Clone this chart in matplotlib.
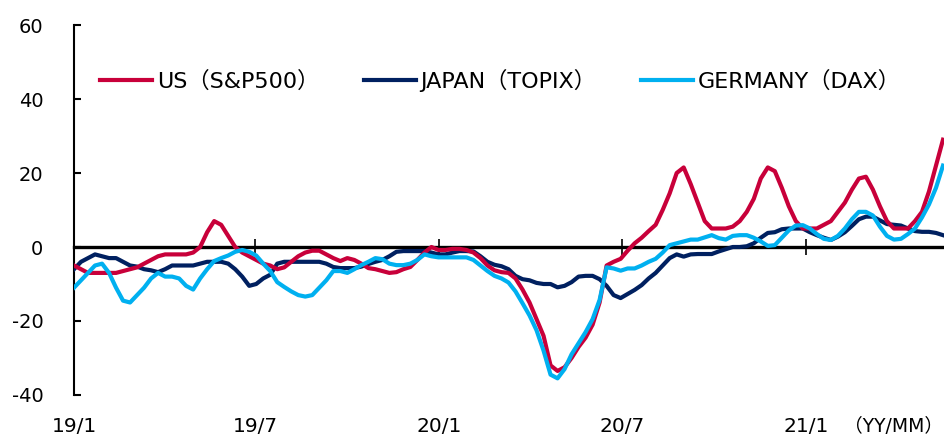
import numpy as np
import pandas as pd
import matplotlib
matplotlib.use('Agg')
import matplotlib.pyplot as plt

plt.rcParams['font.family'] = ['DejaVu Sans', 'Noto Sans CJK JP']
plt.rcParams['axes.unicode_minus'] = False

# weekly series, first point 2019/1
dates = pd.date_range('2019-01-01', periods=125, freq='7D')

us = [-5, -6, -7, -7, -7, -7, -7, -6.5, -6, -5.5,
      -4.5, -3.5, -2.5, -2, -2, -2, -2, -1.5, 0, 4,
      7, 6, 3, 0, -1.5, -2.5, -3.5, -4.5, -5, -6,
      -5.5, -4, -2.5, -1.5, -1, -1, -2, -3, -3.8, -3,
      -3.5, -4.5, -5.7, -6, -6.5, -7, -6.8, -6, -5.4, -3.5,
      -1.5, 0, -0.8, -0.8, -0.5, -0.5, -0.8, -1.5, -3, -5,
      -6.3, -6.8, -7, -8.5, -11.5, -15, -19.5, -24, -32, -33.5,
      -32.5, -30, -27, -24.5, -21, -15, -5, -4, -3.2, -1,
      1, 2.5, 4.3, 6, 10, 14.5, 20, 21.5, 17, 12,
      7, 5, 5, 5, 5.5, 7, 9.5, 13, 18.5, 21.5,
      20.5, 16, 11, 7, 5, 5, 5, 6, 7, 9.5,
      12, 15.5, 18.5, 19, 15.5, 11, 7, 5, 5, 5,
      7, 9.5, 15, 22, 29]

japan = [-6, -4, -3, -2, -2.5, -3, -3, -4, -5, -5.3,
         -6, -6.3, -6.8, -6, -5, -5, -5, -5, -4.5, -4,
         -4, -4, -4.5, -6, -8, -10.5, -10, -8.5, -7.5, -4.5,
         -4, -4, -4, -4, -4, -4, -4.5, -5.4, -5.7, -5.7,
         -5.7, -5.3, -4.6, -4, -3.5, -2.5, -1.3, -1.1, -1.1, -1.1,
         -1.1, -1.5, -2, -2, -1.5, -1.1, -1.1, -1.2, -2.5, -4,
         -4.8, -5.2, -6, -7.8, -8.7, -9, -9.7, -10, -10, -10.9,
         -10.5, -9.5, -8, -7.8, -7.8, -8.7, -10.5, -13, -13.8, -12.7,
         -11.6, -10.3, -8.5, -7, -5, -3, -2, -2.6, -2, -1.9,
         -1.9, -1.9, -1.2, -0.6, 0, 0, 0.2, 1, 2.5, 3.8,
         4, 4.8, 5, 5, 5, 4, 3.2, 2.5, 1.9, 2.8,
         4, 5.7, 7.5, 8.2, 8.2, 7.2, 6.2, 6, 5.8, 5,
         4.3, 4.1, 4.1, 3.8, 3.2]

germany = [-11, -9, -7, -5, -4.5, -7, -11, -14.5, -15, -13,
           -11, -8.5, -7, -8, -8, -8.5, -10.5, -11.5, -8.5, -6,
           -3.8, -3, -2.3, -1.3, -0.8, -1.3, -2.3, -4.5, -6.5, -9.5,
           -10.8, -12, -13, -13.4, -13, -11, -9, -6.5, -6.5, -7,
           -6, -4.9, -4, -3, -3.3, -4.5, -4.9, -4.9, -4.5, -3.5,
           -2, -2.5, -2.8, -2.8, -2.8, -2.8, -2.8, -3.5, -5, -6.5,
           -7.8, -8.5, -9.6, -12, -15.2, -18.5, -22.5, -28, -34.5, -35.5,
           -33, -29, -26, -23, -19.5, -14.3, -5.5, -5.8, -6.4, -5.8,
           -5.8, -5, -4, -3.2, -1.5, 0.5, 1, 1.5, 2, 2,
           2.6, 3.2, 2.4, 2, 3, 3.2, 3.2, 2.5, 1.5, 0.3,
           0.5, 2.5, 4.5, 5.8, 5.9, 5, 3.5, 2.2, 1.9, 3,
           5, 7.5, 9.5, 9.5, 8.5, 5.5, 3, 2, 2.2, 3.5,
           5, 8, 11.5, 16, 22]

tick_dates = pd.to_datetime(['2019-01-01', '2019-07-01', '2020-01-01', '2020-07-01', '2021-01-01'])
tick_labels = ['19/1', '19/7', '20/1', '20/7', '21/1']

fig = plt.figure(figsize=(9.45, 4.36), dpi=100)
ax = fig.add_axes([74 / 945, 1 - 395 / 436, 1 - 74 / 945, (395 - 25) / 436])

l_us, = ax.plot(dates, us, color='#C8003A', lw=3, zorder=4, label='US（S&P500）')
l_jp, = ax.plot(dates, japan, color='#002060', lw=3, zorder=3, label='JAPAN（TOPIX）')
l_de, = ax.plot(dates, germany, color='#00B0F0', lw=3, zorder=5, label='GERMANY（DAX）')

ax.set_ylim(-40, 60)
ax.set_yticks([-40, -20, 0, 20, 40, 60])
ax.set_xlim(dates[0], dates[0] + pd.Timedelta(days=870))

ax.spines['top'].set_visible(False)
ax.spines['right'].set_visible(False)
ax.spines['left'].set_linewidth(1.5)
ax.spines['bottom'].set_position(('data', 0))
ax.spines['bottom'].set_linewidth(2.4)

ax.tick_params(axis='y', direction='in', length=5, width=1.5, pad=22, labelsize=14)
ax.set_xticks(tick_dates)
ax.tick_params(axis='x', direction='inout', length=11.5, width=1.2, labelbottom=False)

for d, lab in zip(tick_dates, tick_labels):
    ax.text(d, -0.085, lab, transform=ax.get_xaxis_transform(), ha='center', va='center',
            fontsize=14.5, clip_on=False)
fig.text(943 / 945, 1 - 426 / 436, '（YY/MM）', ha='right', va='center', fontsize=13.5)

ax.legend(handles=[l_us, l_jp, l_de], loc='center left', bbox_to_anchor=(0.03, 0.851),
          ncol=3, frameon=False, fontsize=16, handlelength=2.35, handletextpad=0.2,
          columnspacing=2.0, borderpad=0, borderaxespad=0)

fig.savefig('out.png', dpi=100)
